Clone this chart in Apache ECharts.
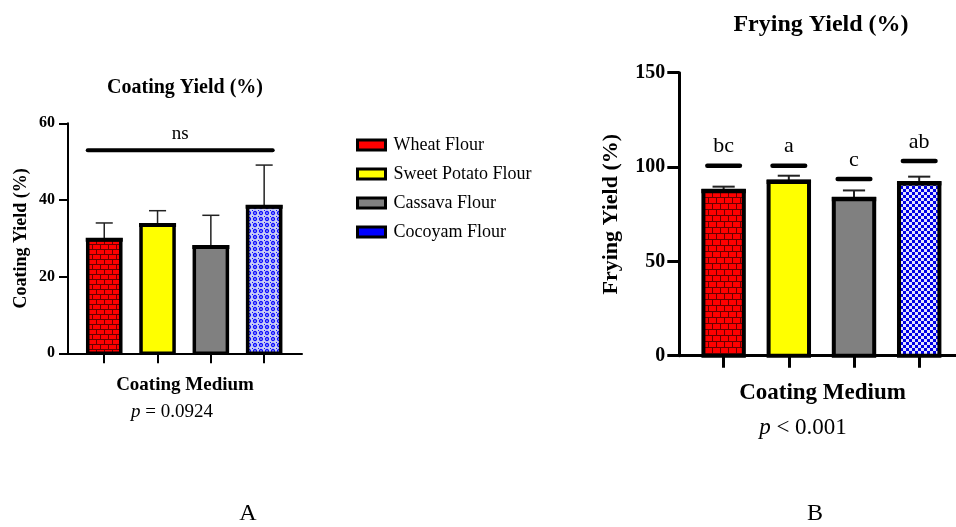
<!DOCTYPE html>
<html>
<head>
<meta charset="utf-8">
<script src="https://cdn.jsdelivr.net/npm/echarts@6/dist/echarts.min.js"></script>
<style>
html,body{margin:0;padding:0;background:#fff;}
#chart{width:956px;height:527px;}
</style>
</head>
<body>
<div id="chart"></div>
<script>
// ---- data ----
const categories = ['Wheat Flour', 'Sweet Potato Flour', 'Cassava Flour', 'Cocoyam Flour'];
const coatingMean = [29.6, 33.5, 27.7, 38.2];
const coatingSD = [4.4, 3.7, 8.3, 10.9];
const fryingMean = [87.3, 92.2, 83.0, 91.4];
const fryingSD = [2.3, 3.2, 4.6, 3.5];
const fryingLetters = ['bc', 'a', 'c', 'ab'];
const fryingLetterLevel = [100.7, 100.7, 93.6, 103.2];
const coatingSigText = 'ns';
const coatingSigLevel = 53;
const coatingTicks = [0, 20, 40, 60];
const fryingTicks = [0, 50, 100, 150];

const SERIF = '"Liberation Serif","DejaVu Serif",serif';

// ---- patterns ----
function brick(bw, bh) {
  const c = document.createElement('canvas');
  c.width = bw * 2; c.height = bh * 2;
  const g = c.getContext('2d');
  g.fillStyle = '#6a0000'; g.fillRect(0, 0, c.width, c.height);
  g.fillStyle = '#ff0000';
  g.fillRect(1, 0, bw - 1, bh - 1);
  g.fillRect(bw + 1, 0, bw - 1, bh - 1);
  const h = bw / 2;
  g.fillRect(h + 1, bh, bw - 1, bh - 1);
  g.fillRect(0, bh, h, bh - 1);
  g.fillRect(h + bw + 1, bh, bw - h - 1, bh - 1);
  return { image: c, repeat: 'repeat' };
}
function checker(s) {
  const c = document.createElement('canvas');
  c.width = s * 2; c.height = s * 2;
  const g = c.getContext('2d');
  g.fillStyle = '#e4e4ff'; g.fillRect(0, 0, c.width, c.height);
  g.fillStyle = '#0000e6';
  g.fillRect(0, 0, s, s); g.fillRect(s, s, s, s);
  return { image: c, repeat: 'repeat' };
}
function rings(s) {
  const c = document.createElement('canvas');
  c.width = s; c.height = s;
  const g = c.getContext('2d');
  g.fillStyle = '#c9cdf5'; g.fillRect(0, 0, s, s);
  g.strokeStyle = '#1010ff'; g.lineWidth = 1.3;
  g.beginPath(); g.arc(s / 2, s / 2, s / 2 - 1.5, 0, Math.PI * 2); g.stroke();
  g.fillStyle = '#1010ff';
  g.fillRect(0, 0, 1, 1);
  return { image: c, repeat: 'repeat' };
}

const solidColors = ['#ff0000', '#ffff00', '#808080', '#0000ff'];
const fillsA = [brick(8, 5), '#ffff00', '#808080', rings(6)];
const fillsB = [brick(8, 6), '#ffff00', '#808080', checker(3)];

function barRenderer(fill, barW, border, errW, capW) {
  return function (params, api) {
    const x = api.value(0), m = api.value(1), e = api.value(2);
    const base = api.coord([x, 0]);
    const top = api.coord([x, m]);
    const et = api.coord([x, m + e]);
    const w = api.size([barW, 0])[0];
    const cw = api.size([capW, 0])[0];
    return {
      type: 'group',
      children: [
        { type: 'line', shape: { x1: top[0], y1: top[1], x2: et[0], y2: et[1] }, style: { stroke: '#222', lineWidth: errW } },
        { type: 'line', shape: { x1: et[0] - cw / 2, y1: et[1], x2: et[0] + cw / 2, y2: et[1] }, style: { stroke: '#222', lineWidth: errW } },
        { type: 'rect', shape: { x: base[0] - w / 2, y: top[1], width: w, height: base[1] - top[1] }, style: { fill: fill, stroke: '#000', lineWidth: border } },
        { type: 'line', shape: { x1: base[0] - w / 2 - 2, y1: top[1], x2: base[0] + w / 2 + 2, y2: top[1] }, style: { stroke: '#000', lineWidth: border + 0.5 } }
      ]
    };
  };
}

const series = [];
categories.forEach(function (name, i) {
  series.push({
    name: name, type: 'custom', xAxisIndex: 0, yAxisIndex: 0,
    itemStyle: { color: solidColors[i] },
    renderItem: barRenderer(fillsA[i], 0.62, 3.5, 1.5, 0.32),
    data: [[i, coatingMean[i], coatingSD[i]]], clip: false, z: 3
  });
  series.push({
    name: name, type: 'custom', xAxisIndex: 1, yAxisIndex: 1,
    itemStyle: { color: solidColors[i] },
    renderItem: barRenderer(fillsB[i], 0.62, 4, 2, 0.34),
    data: [[i, fryingMean[i], fryingSD[i]]], clip: false, z: 3
  });
});

// significance annotation for A
series.push({
  type: 'custom', xAxisIndex: 0, yAxisIndex: 0, silent: true, clip: false,
  renderItem: function (params, api) {
    const p1 = api.coord([api.value(0), api.value(2)]);
    const p2 = api.coord([api.value(1), api.value(2)]);
    return {
      type: 'group', children: [
        { type: 'line', shape: { x1: p1[0], y1: p1[1], x2: p2[0], y2: p2[1] }, style: { stroke: '#000', lineWidth: 4, lineCap: 'round' } },
        { type: 'text', style: { x: (p1[0] + p2[0]) / 2, y: p1[1] - 16, text: coatingSigText, align: 'center', verticalAlign: 'middle', font: '19px ' + SERIF, fill: '#000' } }
      ]
    };
  },
  data: [[-0.31, 3.16, coatingSigLevel]]
});

// letters for B
series.push({
  type: 'custom', xAxisIndex: 1, yAxisIndex: 1, silent: true, clip: false,
  renderItem: function (params, api) {
    const c = api.coord([api.value(0), api.value(1)]);
    const hw = api.size([0.25, 0])[0];
    return {
      type: 'group', children: [
        { type: 'line', shape: { x1: c[0] - hw, y1: c[1], x2: c[0] + hw, y2: c[1] }, style: { stroke: '#000', lineWidth: 4.5, lineCap: 'round' } },
        { type: 'text', style: { x: c[0], y: c[1] - 19, text: fryingLetters[params.dataIndex], align: 'center', verticalAlign: 'middle', font: '22px ' + SERIF, fill: '#000' } }
      ]
    };
  },
  data: fryingLetterLevel.map(function (v, i) { return [i, v]; })
});

const chart = echarts.init(document.getElementById('chart'));
chart.setOption({
  animation: false,
  backgroundColor: '#fff',
  legend: {
    data: categories,
    orient: 'vertical', left: 351, top: 131,
    icon: 'rect', itemWidth: 28, itemHeight: 10, itemGap: 11,
    itemStyle: { borderColor: '#000', borderWidth: 3 },
    textStyle: { fontFamily: SERIF, fontSize: 18, color: '#000', padding: [0, 0, 0, 3], lineHeight: 18 },
    selectedMode: false
  },
  grid: [
    { left: 68, top: 123.3, width: 234, height: 230, containLabel: false },
    { left: 679.3, top: 72.7, width: 276.4, height: 283, containLabel: false }
  ],
  xAxis: [
    {
      gridIndex: 0, type: 'value', min: -0.68, max: 3.71,
      axisLine: { onZero: false, lineStyle: { color: '#000', width: 2 } },
      axisTick: { show: true, length: 10, lineStyle: { color: '#000', width: 2 }, customValues: [0, 1, 2, 3] },
      axisLabel: { show: false }, splitLine: { show: false },
      name: 'Coating Medium', nameLocation: 'middle', nameGap: 22,
      nameTextStyle: { fontFamily: SERIF, fontSize: 19, fontWeight: 'bold', color: '#000', padding: [0, 0, 0, 0] }
    },
    {
      gridIndex: 1, type: 'value', min: -0.68, max: 3.56,
      axisLine: { onZero: false, lineStyle: { color: '#000', width: 3 } },
      axisTick: { show: true, length: 12, lineStyle: { color: '#000', width: 3 }, customValues: [0, 1, 2, 3] },
      axisLabel: { show: false }, splitLine: { show: false },
      name: 'Coating Medium', nameLocation: 'middle', nameGap: 26,
      nameTextStyle: { fontFamily: SERIF, fontSize: 23, fontWeight: 'bold', color: '#000', padding: [0, 0, 0, 10] }
    }
  ],
  yAxis: [
    {
      gridIndex: 0, type: 'value', min: 0, max: 60, interval: 20,
      axisLine: { show: true, onZero: false, lineStyle: { color: '#000', width: 2 } },
      axisTick: { show: true, length: 9, lineStyle: { color: '#000', width: 2 } },
      axisLabel: { color: '#000', fontFamily: SERIF, fontSize: 16, fontWeight: 'bold', margin: 13 },
      splitLine: { show: false },
      name: 'Coating Yield (%)', nameLocation: 'middle', nameGap: 38, nameRotate: 90,
      nameTextStyle: { fontFamily: SERIF, fontSize: 18, fontWeight: 'bold', color: '#000' }
    },
    {
      gridIndex: 1, type: 'value', min: 0, max: 150, interval: 50,
      axisLine: { show: true, onZero: false, lineStyle: { color: '#000', width: 3 } },
      axisTick: { show: true, length: 12, lineStyle: { color: '#000', width: 3 } },
      axisLabel: { color: '#000', fontFamily: SERIF, fontSize: 20, fontWeight: 'bold', margin: 14 },
      splitLine: { show: false },
      name: 'Frying Yield (%)', nameLocation: 'middle', nameGap: 57, nameRotate: 90,
      nameTextStyle: { fontFamily: SERIF, fontSize: 22, fontWeight: 'bold', color: '#000' }
    }
  ],
  graphic: [
    { type: 'text', x: 185, y: 88, style: { text: 'Coating Yield (%)', font: 'bold 20px ' + SERIF, fill: '#000', align: 'center', verticalAlign: 'middle' } },
    { type: 'text', x: 821, y: 25, style: { text: 'Frying Yield (%)', font: 'bold 24px ' + SERIF, fill: '#000', align: 'center', verticalAlign: 'middle' } },
    { type: 'text', x: 172, y: 412, style: { text: '{i|p} = 0.0924', rich: { i: { fontStyle: 'italic', fontFamily: SERIF, fontSize: 19 } }, font: '19px ' + SERIF, fill: '#000', align: 'center', verticalAlign: 'middle' } },
    { type: 'text', x: 803, y: 428, style: { text: '{i|p} < 0.001', rich: { i: { fontStyle: 'italic', fontFamily: SERIF, fontSize: 23 } }, font: '23px ' + SERIF, fill: '#000', align: 'center', verticalAlign: 'middle' } },
    { type: 'text', x: 248, y: 514, style: { text: 'A', font: '24px ' + SERIF, fill: '#000', align: 'center', verticalAlign: 'middle' } },
    { type: 'text', x: 815, y: 514, style: { text: 'B', font: '24px ' + SERIF, fill: '#000', align: 'center', verticalAlign: 'middle' } }
  ],
  series: series
});
</script>
</body>
</html>
